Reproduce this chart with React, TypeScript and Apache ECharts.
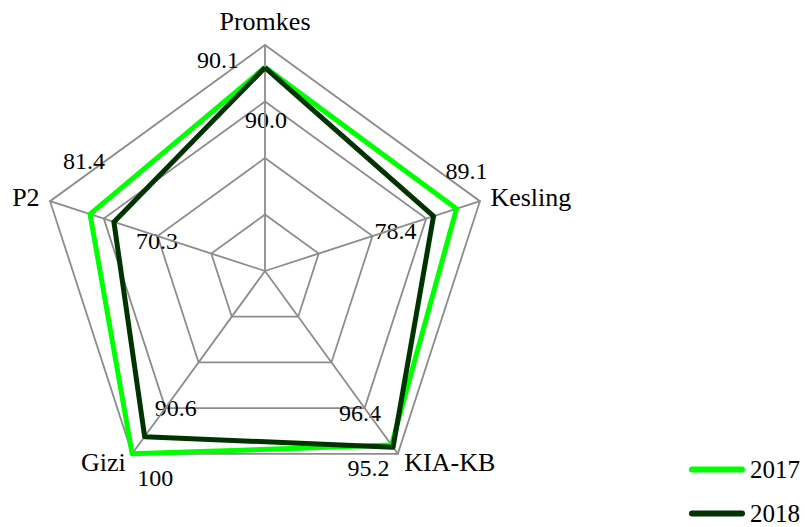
import React, { useEffect, useRef } from 'react';
import * as echarts from 'echarts';

// Program areas, listed clockwise from the top
const categories = ['Promkes', 'Kesling', 'KIA-KB', 'Gizi', 'P2'];
const years = ['2017', '2018'];
const values2017 = [90.1, 89.1, 95.2, 100, 81.4];
const values2018 = [90.0, 78.4, 96.4, 90.6, 70.3];
const seriesValues = [values2017, values2018];
const seriesColors = ['#00ff00', '#003300'];

// Value label placement: pixel offset from each plotted vertex
const labelOffsets = [
  [[-47, -7], [10, -38], [-23, 23], [23, 24], [-6, -53]],
  [[1, 52], [-38, 15], [-33, -34], [31, -29], [43, 19]],
];

const FONT = "'Liberation Serif', 'Times New Roman', 'DejaVu Serif', serif";
const CENTER: [number, number] = [265, 271];
const RADIUS = 226;

// ECharts lays radar indicators out counter-clockwise, so reorder to keep them clockwise
const order = [0, 4, 3, 2, 1];

// one decimal place, whole hundred without
const fmt = (v: number) => (v >= 100 ? v.toFixed(0) : v.toFixed(1));

export default function App() {
  const ref = useRef<HTMLDivElement>(null);

  useEffect(() => {
    if (!ref.current) return;
    const chart = echarts.init(ref.current, null, { renderer: 'svg' });

    chart.setOption({
      animation: false,
      color: seriesColors,
      textStyle: { fontFamily: FONT },
      legend: {
        data: years,
        orient: 'vertical',
        left: 689,
        top: 457,
        height: 80,
        padding: 0,
        itemWidth: 56,
        itemHeight: 6,
        itemGap: 19,
        icon: 'path://M3,0 H53 A3,3 0 0 1 53,6 H3 A3,3 0 0 1 3,0 Z',
        textStyle: { fontFamily: FONT, fontSize: 25, color: '#000' },
      },
      radar: {
        center: CENTER,
        radius: RADIUS,
        splitNumber: 4,
        axisNameGap: 11,
        indicator: order.map((i) => ({ name: categories[i], min: 0, max: 100 })),
        axisName: { color: '#000', fontFamily: FONT, fontSize: 26 },
        axisLine: { lineStyle: { color: '#8c8c8c', width: 1.8 } },
        splitLine: { lineStyle: { color: '#8c8c8c', width: 1.8 } },
        splitArea: { show: false },
        axisTick: { show: false },
        axisLabel: { show: false },
      },
      series: [
        {
          type: 'radar',
          symbol: 'none',
          data: years.map((name, s) => ({
            name,
            value: order.map((i) => seriesValues[s][i]),
            itemStyle: { color: seriesColors[s] },
            lineStyle: { color: seriesColors[s], width: 5 },
          })),
        },
      ],
    });

    // Value labels placed beside each vertex, positioned through the radar coordinate system
    const radar = (chart as any).getModel?.().getComponent('radar', 0)?.coordinateSystem;
    const toPoint = (v: number, k: number): number[] => {
      if (radar && radar.dataToPoint) return radar.dataToPoint(v, k);
      const ang = ((90 + (k * 360) / categories.length) * Math.PI) / 180;
      const r = (v / 100) * RADIUS;
      return [CENTER[0] + r * Math.cos(ang), CENTER[1] - r * Math.sin(ang)];
    };

    const texts: any[] = [];
    years.forEach((_, s) => {
      order.forEach((catIdx, k) => {
        const v = seriesValues[s][catIdx];
        const p = toPoint(v, k);
        const off = labelOffsets[s][catIdx];
        texts.push({
          type: 'text',
          x: p[0] + off[0],
          y: p[1] + off[1],
          silent: true,
          style: {
            text: fmt(v),
            fill: '#000',
            fontFamily: FONT,
            fontSize: 24,
            align: 'center',
            verticalAlign: 'middle',
            textAlign: 'center',
            textVerticalAlign: 'middle',
          },
        });
      });
    });
    chart.setOption({ graphic: { elements: texts } });

    return () => chart.dispose();
  }, []);

  return (
    <div
      ref={ref}
      style={{ position: 'fixed', left: 0, top: 0, width: 805, height: 527, background: '#fff' }}
    />
  );
}
